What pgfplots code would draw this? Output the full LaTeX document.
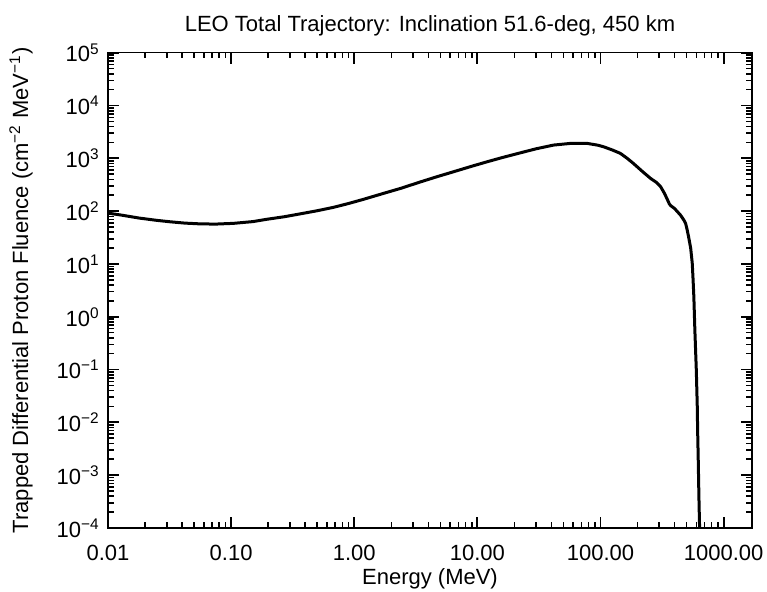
\documentclass[border=0pt]{standalone}
\usepackage{pgfplots}
\pgfplotsset{compat=1.18}
\usepackage{fontspec}
\setmainfont{Liberation Sans}
\newcommand{\lbl}{\fontsize{11}{13}\selectfont}
\begin{document}
\begin{tikzpicture}
\begin{axis}[
    at={(0,0)}, anchor=south west, scale only axis,
    width=322pt, height=237.6pt,
    xmode=log, ymode=log,
    xmin=0.01, xmax=1700, ymin=1e-4, ymax=1e5,
    axis line style={line width=0.7pt},
    every major tick/.append style={black, line width=0.9pt, major tick length=5.5pt},
    every minor tick/.append style={black, line width=0.8pt, minor tick length=2.8pt},
    tick align=inside,
    xtick pos=both, ytick pos=both,
    xtick={0.01,0.1,1,10,100,1000},
    xticklabels={0.01,0.10,1.00,10.00,100.00,1000.00},
    ytick={1e-4,1e-3,1e-2,1e-1,1,10,100,1e3,1e4,1e5},
    yticklabels={{10\textsuperscript{−4}},{10\textsuperscript{−3}},{10\textsuperscript{−2}},{10\textsuperscript{−1}},{10\textsuperscript{0}},{10\textsuperscript{1}},{10\textsuperscript{2}},{10\textsuperscript{3}},{10\textsuperscript{4}},{10\textsuperscript{5}}},
    tick label style={font=\lbl, inner sep=1pt},
    xticklabel style={anchor=base, yshift=-16.25pt},
    yticklabel style={anchor=east, xshift=-3pt},
    title={LEO Total Trajectory: Inclination 51.6-deg, 450 km},
    title style={font=\lbl, inner sep=1pt, at={(0.5,1.0189)}, anchor=base},
    xlabel={Energy (MeV)},
    xlabel style={font=\lbl, inner sep=1pt, at={(axis description cs:0.5,-0.1189)}, anchor=base},
    ylabel={Trapped Differential Proton Fluence (cm\textsuperscript{−2} MeV\textsuperscript{−1})},
    ylabel style={font=\lbl, inner sep=1pt, at={(axis description cs:-0.1242,0.5)}, anchor=base},
]
\addplot[black, line width=1.5pt, line join=round] coordinates {
(0.01,92) (0.013,84) (0.018,74) (0.025,67) (0.032,63) (0.042,59.5) (0.056,57.5)
(0.075,57) (0.104,58.8) (0.15,63.5) (0.196,70.4) (0.27,78.5) (0.364,89) (0.5,102)
(0.675,118) (0.9,140) (1.18,167) (1.7,215) (2.4,272) (3.44,358) (4.7,450)
(6.38,557) (9,710) (12,863) (16,1040) (22.4,1276) (30,1520) (41.5,1787)
(57,1923) (78,1923) (95,1780) (106,1660) (125,1440) (145,1245) (165,1000)
(185,803) (220,560) (255,418) (285,350) (308,290) (330,220) (351,162)
(362,138) (371,128) (400,112) (447,84) (475,68) (491,59) (505,45) (519,33)
(540,20) (556,10.4) (565,5) (573,2.4) (584,0.56) (600,0.098) (611,0.0197)
(615,0.0072) (622,0.002) (630,3.9e-4) (638,1e-4)
};
\end{axis}
\path (-54pt,-32pt) rectangle (329.5pt,264pt);
\end{tikzpicture}
\end{document}
